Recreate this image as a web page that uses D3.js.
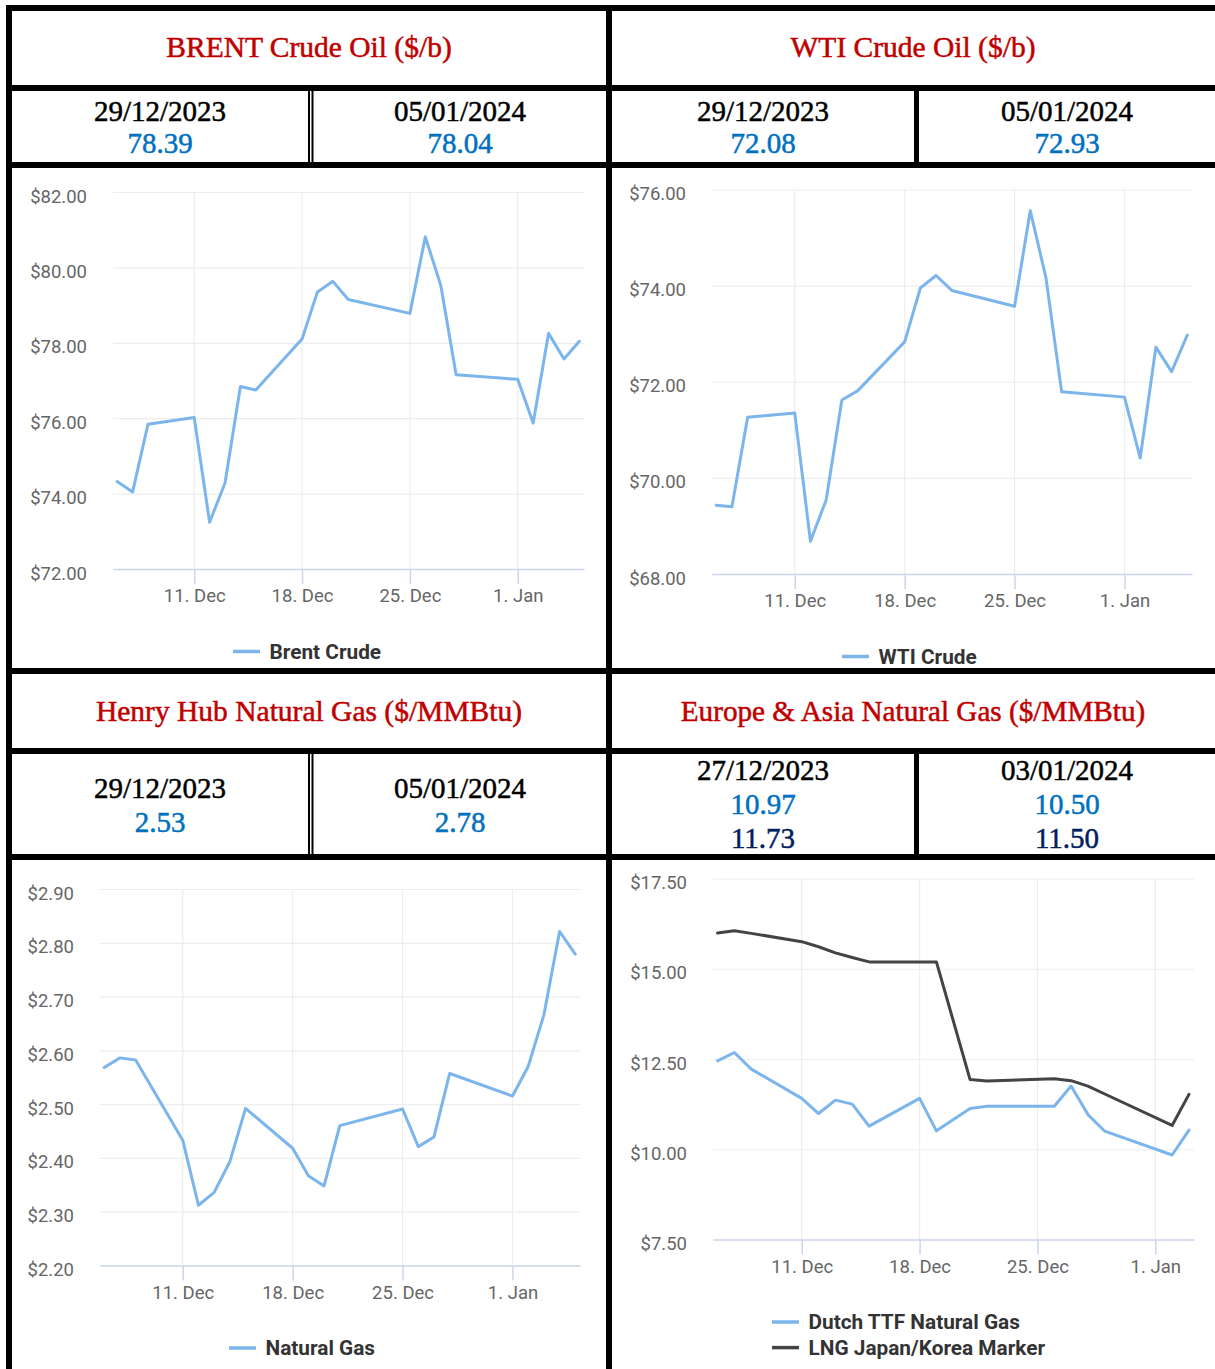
<!DOCTYPE html>
<html>
<head>
<meta charset="utf-8">
<script src="https://cdn.jsdelivr.net/npm/d3@7/dist/d3.min.js"></script>
<style>
  body { margin: 0; background: #fff; }
  svg text { font-kerning: normal; }
</style>
</head>
<body>
<script>
//CONSTANTS
var W = 1215, H = 1369;
var lightBlue = '#7cb5ec', darkGrey = '#434348';
var titleRed = '#c00000', valueBlue = '#0070c0', valueNavy = '#002060';
var serif = '"Liberation Serif", "Times New Roman", serif';
var sans = 'Roboto, "Noto Sans", sans-serif';
var DAY = 864e5;

// data
var oilDates = ['2023-12-06', '2023-12-07', '2023-12-08', '2023-12-11', '2023-12-12', '2023-12-13',
  '2023-12-14', '2023-12-15', '2023-12-18', '2023-12-19', '2023-12-20', '2023-12-21', '2023-12-25',
  '2023-12-26', '2023-12-27', '2023-12-28', '2024-01-01', '2024-01-02', '2024-01-03', '2024-01-04',
  '2024-01-05'];
var brentValues = [74.32, 74.04, 75.84, 76.02, 73.24, 74.28, 76.84, 76.75, 78.10, 79.35, 79.63,
  79.15, 78.78, 80.81, 79.53, 77.15, 77.03, 75.87, 78.25, 77.57, 78.04];
var wtiValues = [69.43, 69.40, 71.26, 71.35, 68.68, 69.54, 71.62, 71.81, 72.83, 73.95, 74.21,
  73.90, 73.57, 75.56, 74.16, 71.79, 71.68, 70.41, 72.72, 72.21, 72.97];
var henryValues = [2.568, 2.586, 2.582, 2.433, 2.312, 2.336, 2.393, 2.492, 2.418, 2.367, 2.348,
  2.460, 2.491, 2.421, 2.439, 2.557, 2.515, 2.570, 2.666, 2.821, 2.779];

var gasDates = ['2023-12-06', '2023-12-07', '2023-12-08', '2023-12-11', '2023-12-12', '2023-12-13',
  '2023-12-14', '2023-12-15', '2023-12-18', '2023-12-19', '2023-12-21', '2023-12-22', '2023-12-26',
  '2023-12-27', '2023-12-28', '2023-12-29', '2024-01-02', '2024-01-03'];
var ttfValues = [12.45, 12.68, 12.22, 11.41, 10.99, 11.36, 11.25, 10.64, 11.41, 10.51, 11.13,
  11.19, 11.19, 11.75, 10.96, 10.50, 9.84, 10.53];
var lngValues = [15.99, 16.05, 15.98, 15.75, 15.61, 15.44, 15.31, 15.19, 15.19, 15.19, 11.93,
  11.89, 11.95, 11.90, 11.75, 11.53, 10.66, 11.52];

var brentTicks = [72, 74, 76, 78, 80, 82];
var wtiTicks = [68, 70, 72, 74, 76];
var henryTicks = [2.2, 2.3, 2.4, 2.5, 2.6, 2.7, 2.8, 2.9];
var gasTicks = [7.5, 10, 12.5, 15, 17.5];

var panelTitles = ['BRENT Crude Oil ($/b)', 'WTI Crude Oil ($/b)',
  'Henry Hub Natural Gas ($/MMBtu)', 'Europe & Asia Natural Gas ($/MMBtu)'];
var brentHeader = [['29/12/2023', '78.39'], ['05/01/2024', '78.04']];
var wtiHeader = [['29/12/2023', '72.08'], ['05/01/2024', '72.93']];
var henryHeader = [['29/12/2023', '2.53'], ['05/01/2024', '2.78']];
var gasHeader = [['27/12/2023', '10.97', '11.73'], ['03/01/2024', '10.50', '11.50']];

var parse = d3.utcParse('%Y-%m-%d');

var svg = d3.select('body').append('svg')
  .attr('width', W).attr('height', H)
  .style('display', 'block');
svg.append('rect').attr('width', W).attr('height', H).attr('fill', '#fff');

var charts = svg.append('g');
var table = svg.append('g');

// ---- table frame ----
function hline(y, x1, x2, w) {
  table.append('line').attr('x1', x1).attr('x2', x2).attr('y1', y).attr('y2', y)
    .attr('stroke', '#000').attr('stroke-width', w || 6);
}
function vline(x, y1, y2, w) {
  table.append('line').attr('x1', x).attr('x2', x).attr('y1', y1).attr('y2', y2)
    .attr('stroke', '#000').attr('stroke-width', w || 6);
}
[8, 88, 165, 671, 751, 857].forEach(function(y) { hline(y, 6, W); });
vline(9, 5, H);
vline(609, 5, H);
// sub cell dividers
[[88, 165], [751, 857]].forEach(function(r) {
  vline(309, r[0], r[1], 2);
  vline(312.5, r[0], r[1], 2);
  vline(916.5, r[0], r[1], 5);
});

function txt(x, y, s, color, size) {
  table.append('text').attr('x', x).attr('y', y).attr('text-anchor', 'middle')
    .attr('font-family', serif).attr('font-size', size || 29).attr('fill', color)
    .attr('stroke', color).attr('stroke-width', 0.5).text(s);
}
txt(309, 57, panelTitles[0], titleRed, 29.5);
txt(913, 57, panelTitles[1], titleRed, 29.5);
txt(309, 721, panelTitles[2], titleRed, 29.5);
txt(913, 721, panelTitles[3], titleRed, 29.2);

function headerCells(cells, xs, ys) {
  cells.forEach(function(c, i) {
    c.forEach(function(s, j) {
      var col = j === 0 ? '#000' : (j === 1 ? valueBlue : valueNavy);
      txt(xs[i], ys[j], s, col);
    });
  });
}
headerCells(brentHeader, [160, 460], [120.5, 152.5]);
headerCells(wtiHeader, [763, 1067], [120.5, 152.5]);
headerCells(henryHeader, [160, 460], [798, 831.5]);
headerCells(gasHeader, [763, 1067], [780, 814, 847.5]);

// ---- charts ----
function drawChart(cfg) {
  var g = charts.append('g');
  var dates = cfg.dates.map(parse);
  var x = d3.scaleUtc()
    .domain([new Date(+dates[0] - 0.27 * DAY), new Date(+dates[dates.length - 1] + 0.3 * DAY)])
    .range([cfg.left, cfg.right]);
  var y = d3.scaleLinear()
    .domain([cfg.ticks[0], cfg.ticks[cfg.ticks.length - 1]])
    .range([cfg.bottom, cfg.top]);

  var weeks = x.ticks(d3.utcMonday);

  // vertical grid
  g.selectAll('.vgrid').data(weeks).enter().append('line')
    .attr('x1', function(d) { return x(d); }).attr('x2', function(d) { return x(d); })
    .attr('y1', cfg.top).attr('y2', cfg.bottom)
    .attr('stroke', '#ededed').attr('stroke-width', 1.2);

  // y axis + horizontal grid
  var ya = g.append('g').attr('transform', 'translate(' + cfg.left + ',0)')
    .call(d3.axisLeft(y).tickValues(cfg.ticks).tickSize(-(cfg.right - cfg.left))
      .tickPadding(26).tickFormat(d3.format('$.2f')));
  ya.select('.domain').remove();
  ya.selectAll('.tick line').attr('stroke', '#ededed').attr('stroke-width', 1.2);
  ya.selectAll('.tick text').attr('dy', 10).attr('fill', '#666')
    .attr('font-family', sans).attr('font-size', 18.5);

  // x axis
  var xa = g.append('g').attr('transform', 'translate(0,' + cfg.bottom + ')')
    .call(d3.axisBottom(x).tickValues(weeks).tickSize(15).tickSizeOuter(0).tickPadding(5)
      .tickFormat(d3.utcFormat('%-d. %b')));
  xa.select('.domain').attr('stroke', '#ccd6eb').attr('stroke-width', 1.5);
  xa.selectAll('.tick line').attr('stroke', '#ccd6eb').attr('stroke-width', 1.5);
  xa.selectAll('.tick text').attr('fill', '#666')
    .attr('font-family', sans).attr('font-size', 18.5);

  var line = d3.line()
    .x(function(d) { return x(d[0]); })
    .y(function(d) { return y(d[1]); });

  cfg.series.forEach(function(s, k) {
    var pts = dates.map(function(d, i) { return [d, s.values[i]]; });
    g.append('path').datum(pts).attr('d', line)
      .attr('fill', 'none').attr('stroke', s.color).attr('stroke-width', 3)
      .attr('stroke-linejoin', 'round').attr('stroke-linecap', 'round');

    var ly = cfg.bottom + 82.5 + k * 25.6;
    g.append('line').attr('x1', cfg.legendX).attr('x2', cfg.legendX + 27)
      .attr('y1', ly).attr('y2', ly)
      .attr('stroke', s.color).attr('stroke-width', 3.5);
    g.append('text').attr('x', cfg.legendX + 36.5).attr('y', ly + 7.2)
      .attr('font-family', sans).attr('font-weight', 'bold').attr('font-size', 20.8)
      .attr('fill', '#333').text(s.name);
  });
}

drawChart({
  dates: oilDates, ticks: brentTicks,
  left: 113, right: 584, top: 192, bottom: 569, legendX: 233,
  series: [{name: 'Brent Crude', values: brentValues, color: lightBlue}]
});
drawChart({
  dates: oilDates, ticks: wtiTicks,
  left: 712, right: 1192, top: 189.5, bottom: 574, legendX: 842,
  series: [{name: 'WTI Crude', values: wtiValues, color: lightBlue}]
});
drawChart({
  dates: oilDates, ticks: henryTicks,
  left: 100, right: 580, top: 889, bottom: 1265.5, legendX: 229,
  series: [{name: 'Natural Gas', values: henryValues, color: lightBlue}]
});
drawChart({
  dates: gasDates, ticks: gasTicks,
  left: 713, right: 1194, top: 878.5, bottom: 1239.5, legendX: 772,
  series: [
    {name: 'Dutch TTF Natural Gas', values: ttfValues, color: lightBlue},
    {name: 'LNG Japan/Korea Marker', values: lngValues, color: darkGrey}
  ]
});
</script>
</body>
</html>
